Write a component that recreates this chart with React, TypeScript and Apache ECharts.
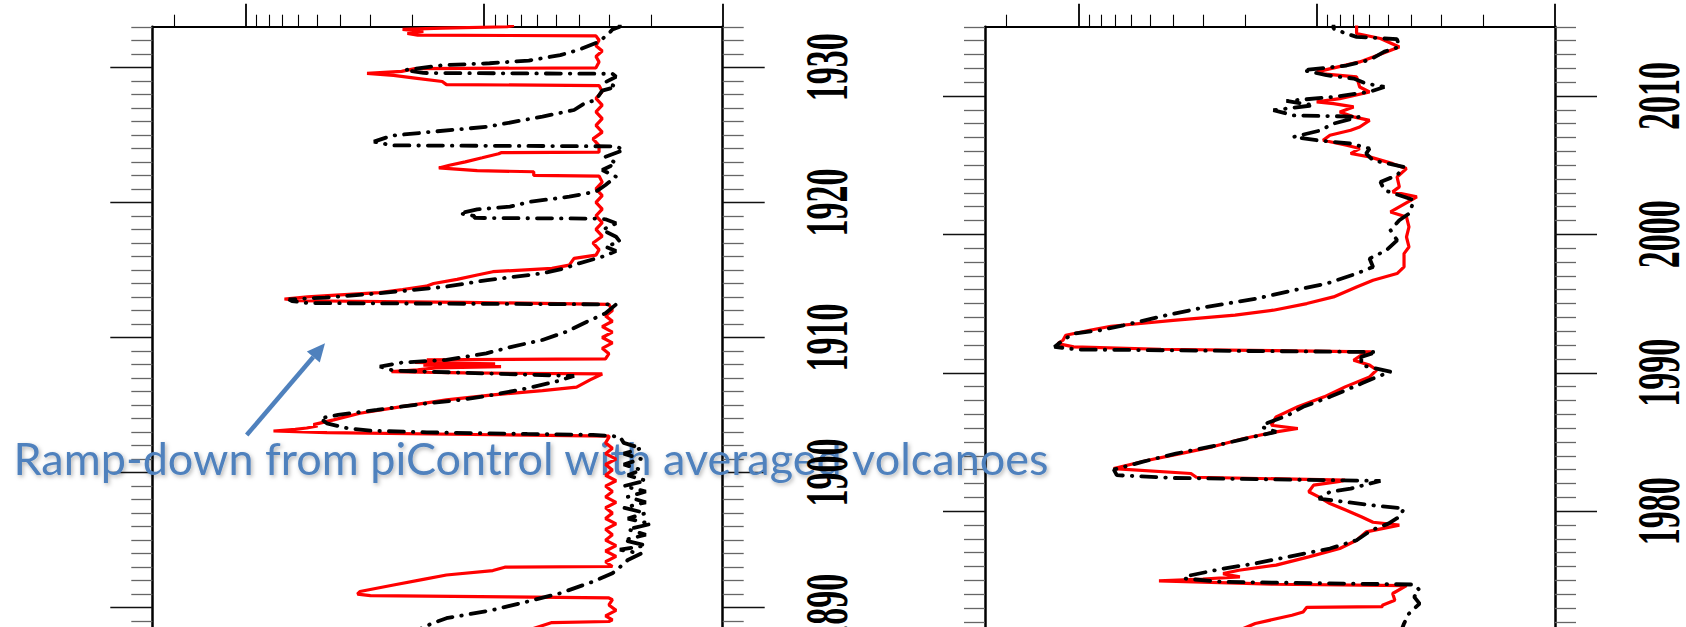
import React, { useEffect, useRef } from "react";
import * as echarts from "echarts";

// ---------- data: [year, aerosol optical depth] ----------
const leftRed: [number, number][] = [
  [1888.0, 0.0075], [1888.9, 0.0052], [1888.98, 0.003], [1889.1, 0.0029], [1889.4, 0.0031],
  [1889.8, 0.0028], [1890.2, 0.003], [1890.6, 0.0029], [1890.72, 0.003], [1890.8, 0.008],
  [1890.9, 0.03], [1891.0, 0.034], [1891.2, 0.0332], [1891.68, 0.024], [1892.1, 0.018],
  [1892.42, 0.0144], [1892.75, 0.0092], [1893.0, 0.0082], [1893.05, 0.0029],
  [1893.4, 0.0031], [1893.8, 0.0028], [1894.2, 0.0031], [1894.6, 0.0028], [1895.0, 0.0031],
  [1895.4, 0.0029], [1895.8, 0.0031], [1896.2, 0.0028], [1896.6, 0.0031], [1897.0, 0.0029],
  [1897.4, 0.0031], [1897.8, 0.0028], [1898.2, 0.0031], [1898.6, 0.0029], [1899.0, 0.0031],
  [1899.4, 0.0028], [1899.8, 0.0031], [1900.2, 0.0029], [1900.6, 0.0031], [1901.0, 0.0028],
  [1901.4, 0.0031], [1901.8, 0.0029], [1902.2, 0.0031], [1902.6, 0.003], [1902.7, 0.003],
  [1902.8, 0.0092], [1902.96, 0.0457], [1903.08, 0.0765], [1903.2, 0.062], [1903.3, 0.0555],
  [1903.45, 0.05], [1903.55, 0.052], [1903.9, 0.0428], [1904.39, 0.0332], [1904.88, 0.0222],
  [1905.38, 0.0144], [1905.75, 0.0092], [1906.07, 0.0057], [1906.32, 0.0041], [1906.86, 0.0036],
  [1907.3, 0.0032], [1907.38, 0.012], [1907.48, 0.0245], [1907.6, 0.019], [1907.75, 0.016],
  [1907.85, 0.0085], [1907.95, 0.018], [1908.05, 0.009], [1908.15, 0.0195], [1908.25, 0.017],
  [1908.34, 0.0174], [1908.42, 0.0031], [1908.8, 0.003], [1909.2, 0.0032], [1909.6, 0.0029],
  [1910.0, 0.0032], [1910.4, 0.0029], [1910.8, 0.0032], [1911.2, 0.0029], [1911.6, 0.0031],
  [1912.0, 0.0029], [1912.45, 0.003], [1912.6, 0.012], [1912.72, 0.06], [1912.85, 0.0688],
  [1913.0, 0.055], [1913.14, 0.0419], [1913.32, 0.0275], [1913.55, 0.022], [1913.8, 0.0175],
  [1914.0, 0.0163], [1914.3, 0.013], [1914.63, 0.0107], [1914.87, 0.0092], [1915.12, 0.0052],
  [1915.36, 0.0044], [1915.86, 0.0042], [1916.1, 0.0034], [1916.5, 0.0033], [1917.0, 0.0035],
  [1917.5, 0.0032], [1918.0, 0.0034], [1918.5, 0.0032], [1919.0, 0.0034], [1919.5, 0.0032],
  [1920.0, 0.0034], [1920.5, 0.0032], [1921.0, 0.0034], [1921.5, 0.0032], [1921.95, 0.0033],
  [1922.0, 0.0062], [1922.27, 0.0062], [1922.35, 0.0107], [1922.55, 0.0155], [1922.75, 0.014],
  [1923.0, 0.012], [1923.3, 0.0102], [1923.6, 0.0087], [1923.68, 0.0085], [1923.72, 0.0033],
  [1924.2, 0.0033], [1924.7, 0.0035], [1925.2, 0.0032], [1925.7, 0.0034], [1926.2, 0.0032],
  [1926.7, 0.0034], [1927.2, 0.0032], [1927.7, 0.0034], [1928.2, 0.0032], [1928.65, 0.0033],
  [1928.72, 0.0144], [1928.95, 0.015], [1929.2, 0.0195], [1929.4, 0.024], [1929.55, 0.031],
  [1929.7, 0.0222], [1929.9, 0.0195], [1929.96, 0.0034], [1930.4, 0.0033], [1930.8, 0.0034],
  [1931.2, 0.0032], [1931.6, 0.0034], [1932.0, 0.0033], [1932.33, 0.0034], [1932.38, 0.019],
  [1932.5, 0.021], [1932.65, 0.018], [1932.8, 0.022], [1932.9, 0.015], [1933.0, 0.008],
  [1933.1, 0.0075],
];

const leftBlack: [number, number][] = [
  [1888.0, 0.021], [1888.85, 0.0165], [1889.22, 0.0144], [1889.83, 0.0092], [1890.45, 0.0066],
  [1891.07, 0.0048], [1891.93, 0.0035], [1892.55, 0.0029], [1893.0, 0.0027], [1893.53, 0.0025],
  [1894.0, 0.0022], [1894.3, 0.0027], [1894.6, 0.0021], [1895.0, 0.0026], [1895.4, 0.0021],
  [1895.8, 0.0025], [1896.2, 0.002], [1896.6, 0.0025], [1897.0, 0.0021], [1897.4, 0.0026],
  [1897.8, 0.0021], [1898.2, 0.0025], [1898.6, 0.0021], [1899.0, 0.0026], [1899.4, 0.0021],
  [1899.8, 0.0025], [1900.2, 0.0022], [1900.6, 0.0026], [1901.0, 0.0022], [1901.4, 0.0026],
  [1901.8, 0.0022], [1902.2, 0.0026], [1902.66, 0.0027], [1902.79, 0.0035], [1902.86, 0.0066],
  [1902.98, 0.0174], [1903.1, 0.03], [1903.28, 0.0374], [1903.65, 0.0457], [1904.02, 0.0487],
  [1904.27, 0.041], [1904.64, 0.0282], [1905.13, 0.0174], [1905.38, 0.0126], [1905.75, 0.0092],
  [1906.24, 0.0066], [1906.74, 0.005], [1907.15, 0.0042], [1907.4, 0.0126], [1907.55, 0.024],
  [1907.85, 0.0274], [1908.14, 0.0222], [1908.34, 0.0144], [1908.83, 0.0098], [1909.33, 0.0076],
  [1909.82, 0.0057], [1910.44, 0.0045], [1911.18, 0.0037], [1911.79, 0.0031], [1912.45, 0.0028],
  [1912.55, 0.055], [1912.7, 0.064], [1912.82, 0.066], [1912.95, 0.0465], [1913.27, 0.0275],
  [1913.76, 0.0145], [1914.25, 0.0097], [1914.75, 0.0057], [1915.12, 0.0046], [1915.49, 0.004],
  [1915.98, 0.0032], [1916.4, 0.0028], [1916.72, 0.0031], [1917.1, 0.0027], [1917.46, 0.0028],
  [1917.96, 0.0032], [1918.45, 0.0028], [1918.75, 0.0031], [1918.8, 0.0034], [1918.85, 0.011],
  [1919.0, 0.011], [1919.19, 0.0127], [1919.48, 0.0107], [1919.68, 0.0078], [1920.05, 0.0064],
  [1920.42, 0.0044], [1920.8, 0.0034], [1921.29, 0.0031], [1921.9, 0.0028], [1922.4, 0.0032],
  [1922.89, 0.0028], [1923.38, 0.0031], [1923.88, 0.0026], [1924.15, 0.0028], [1924.22, 0.0244],
  [1924.5, 0.029], [1924.94, 0.0244], [1925.24, 0.0163], [1925.6, 0.0097], [1926.35, 0.0057],
  [1926.84, 0.0042], [1927.33, 0.0038], [1927.58, 0.0034], [1928.27, 0.0032], [1928.56, 0.0028],
  [1928.9, 0.0031], [1929.3, 0.0028], [1929.52, 0.0029], [1929.58, 0.018], [1929.8, 0.0215],
  [1930.15, 0.015], [1930.3, 0.0095], [1930.5, 0.0065], [1930.9, 0.0048], [1931.3, 0.004],
  [1931.9, 0.0033], [1932.5, 0.003], [1932.8, 0.0029], [1933.0, 0.0027], [1933.1, 0.0027],
];

const rightRed: [number, number][] = [
  [1971.0, 0.024], [1971.88, 0.0181], [1972.48, 0.0127], [1972.72, 0.0114], [1973.05, 0.011],
  [1973.1, 0.0053], [1973.2, 0.0053], [1973.57, 0.0047], [1974.05, 0.0048], [1974.62, 0.0042],
  [1974.72, 0.015], [1974.96, 0.0459], [1975.1, 0.03], [1975.25, 0.021], [1975.4, 0.0235],
  [1975.49, 0.0247], [1975.73, 0.0212], [1976.1, 0.0148], [1976.7, 0.0108], [1977.3, 0.008],
  [1977.9, 0.0068], [1978.5, 0.0062], [1978.99, 0.0045], [1979.2, 0.0058], [1979.6, 0.0065],
  [1980.1, 0.0076], [1980.55, 0.0088], [1981.03, 0.0098], [1981.4, 0.0108], [1981.88, 0.0103],
  [1982.15, 0.008], [1982.24, 0.0076], [1982.45, 0.032], [1982.72, 0.0337], [1983.08, 0.0711],
  [1983.68, 0.051], [1984.16, 0.0373], [1984.65, 0.0274], [1985.25, 0.0202], [1985.73, 0.0148],
  [1985.97, 0.012], [1986.21, 0.0155], [1986.81, 0.0148], [1987.54, 0.012], [1988.26, 0.0093],
  [1988.98, 0.0076], [1989.7, 0.006], [1990.2, 0.0056], [1990.55, 0.006], [1990.9, 0.007],
  [1991.27, 0.0065], [1991.51, 0.0059], [1991.6, 0.015], [1991.7, 0.045], [1991.87, 0.1046],
  [1992.11, 0.122], [1992.35, 0.116], [1992.71, 0.113], [1993.07, 0.0896], [1993.36, 0.073],
  [1993.79, 0.04], [1994.16, 0.022], [1994.52, 0.0152], [1995.0, 0.011], [1995.48, 0.0085],
  [1996.2, 0.0068], [1996.68, 0.0058], [1997.17, 0.0046], [1997.65, 0.0043], [1998.61, 0.0043],
  [1999.09, 0.0041], [1999.81, 0.0042], [2000.54, 0.0041], [2001.26, 0.0042], [2001.62, 0.0049],
  [2002.71, 0.0038], [2003.07, 0.0048], [2003.43, 0.0045], [2004.15, 0.0046], [2004.75, 0.0042],
  [2005.11, 0.0048], [2005.6, 0.006], [2005.84, 0.0072], [2006.2, 0.0066], [2006.44, 0.0075],
  [2006.8, 0.0094], [2007.16, 0.0088], [2007.52, 0.0072], [2007.76, 0.0066], [2008.24, 0.006],
  [2008.49, 0.007], [2008.85, 0.008], [2009.21, 0.007], [2009.45, 0.0085], [2009.57, 0.01],
  [2009.81, 0.008], [2010.29, 0.006], [2010.65, 0.0066], [2011.38, 0.0068], [2011.6, 0.0094],
  [2011.74, 0.01], [2012.46, 0.0066], [2012.82, 0.0058], [2013.54, 0.0045], [2014.15, 0.0054],
  [2014.51, 0.0068], [2014.94, 0.0068], [2015.1, 0.0068],
];

const rightBlack: [number, number][] = [
  [1971.0, 0.0045], [1971.88, 0.0043], [1972.6, 0.0041], [1973.32, 0.0037], [1973.81, 0.0039],
  [1974.29, 0.0037], [1974.7, 0.0039], [1974.89, 0.0247], [1975.13, 0.036], [1975.37, 0.0337],
  [1975.85, 0.0247], [1976.22, 0.0181], [1976.7, 0.0132], [1977.3, 0.0088], [1977.9, 0.0068],
  [1978.62, 0.0059], [1979.1, 0.005], [1979.59, 0.0045], [1980.19, 0.0043], [1980.43, 0.0059],
  [1980.91, 0.0098], [1981.39, 0.0088], [1981.63, 0.0072], [1982.19, 0.0054], [1982.4, 0.041],
  [1982.6, 0.069], [1983.0, 0.071], [1983.56, 0.054], [1984.16, 0.039], [1984.77, 0.026],
  [1985.37, 0.0185], [1985.73, 0.0148], [1986.09, 0.017], [1986.33, 0.0163], [1986.93, 0.0132],
  [1987.54, 0.0114], [1988.26, 0.0088], [1989.22, 0.0065], [1989.7, 0.0056], [1990.07, 0.0049],
  [1990.55, 0.0065], [1991.15, 0.0065], [1991.5, 0.0056], [1991.6, 0.03], [1991.68, 0.1],
  [1991.87, 0.126], [1992.35, 0.116], [1992.83, 0.105], [1993.07, 0.0811], [1993.43, 0.0647],
  [1994.16, 0.0427], [1994.76, 0.029], [1995.36, 0.0179], [1995.96, 0.0125], [1996.44, 0.0091],
  [1997.17, 0.0068], [1997.65, 0.0058], [1998.25, 0.006], [1998.85, 0.0051], [1999.57, 0.0046],
  [2000.3, 0.0049], [2001.02, 0.0045], [2001.5, 0.0041], [2002.47, 0.0039], [2003.19, 0.0052],
  [2003.79, 0.0054], [2004.27, 0.0046], [2004.87, 0.0043], [2005.35, 0.0058], [2005.84, 0.0062],
  [2006.2, 0.006], [2006.56, 0.0072], [2006.8, 0.01], [2007.04, 0.0125], [2007.5, 0.0097],
  [2008.0, 0.0085], [2008.5, 0.0066], [2008.6, 0.0125], [2008.97, 0.0152], [2009.33, 0.0103],
  [2009.64, 0.0134], [2009.93, 0.0085], [2010.3, 0.006], [2010.65, 0.0052], [2010.9, 0.0062],
  [2011.26, 0.007], [2011.5, 0.0091], [2011.86, 0.0114], [2012.2, 0.0075], [2012.6, 0.006],
  [2013.2, 0.0052], [2013.55, 0.0045], [2014.1, 0.0046], [2014.27, 0.0068], [2014.5, 0.0075],
  [2014.87, 0.0085], [2015.1, 0.0085],
];

const leftYearLabels = [1890, 1900, 1910, 1920, 1930];
const rightYearLabels = [1980, 1990, 2000, 2010];
const leftYearRange = [1884.648, 1933.005];
const rightYearRange = [1967.801, 2015.005];
const aodRange = [0.001, 0.2465];
const annotation = "Ramp-down from piControl with averaged volcanoes";

// ---------- layout ----------
const CHART_W = 1686;
const CHART_H = 680;
const GRIDS = [
  { left: 152.3, top: 26.7, width: 570.4, height: 653.3 },
  { left: 985, top: 26.7, width: 570, height: 653.3 },
];
const BLUE = "#4F81BD";
const SERIF = "Liberation Serif, Times New Roman, serif";

function logTicks() {
  const maxLog = Math.log10(aodRange[1]);
  const major: number[] = [];
  const minor: number[] = [];
  for (let n = -3; n <= -1; n++) {
    major.push(n);
    for (let k = 2; k <= 9; k++) {
      const v = Math.log10(k * Math.pow(10, n));
      if (v < maxLog) minor.push(v);
    }
  }
  return { major, minor, maxLog };
}

function buildOption() {
  const { major, minor, maxLog } = logTicks();
  const xAxis: any[] = [];
  const yAxis: any[] = [];
  const hidden = { show: false };
  GRIDS.forEach((_, gi) => {
    xAxis.push({
      type: "log", logBase: 10, gridIndex: gi, min: aodRange[0], max: aodRange[1],
      inverse: true, position: "top",
      axisLine: { show: true, lineStyle: { color: "#000", width: 2 } },
      axisTick: hidden, axisLabel: hidden, splitLine: hidden, minorTick: hidden,
    });
    xAxis.push({
      type: "value", gridIndex: gi, min: -3, max: maxLog, inverse: true, position: "top",
      axisLine: hidden,
      axisTick: { show: true, customValues: major, length: 23, lineStyle: { color: "#000", width: 1.8 } },
      axisLabel: hidden, splitLine: hidden,
    });
    xAxis.push({
      type: "value", gridIndex: gi, min: -3, max: maxLog, inverse: true, position: "top",
      axisLine: hidden,
      axisTick: { show: true, customValues: minor, length: 12, lineStyle: { color: "#000", width: 1.1 } },
      axisLabel: hidden, splitLine: hidden,
    });
    const range = gi === 0 ? leftYearRange : rightYearRange;
    const majors = gi === 0 ? leftYearLabels : rightYearLabels;
    ["left", "right"].forEach((pos) => {
      yAxis.push({
        type: "value", gridIndex: gi, min: range[0], max: range[1], position: pos,
        axisLine: { show: true, lineStyle: { color: "#000", width: 2.5 } },
        axisTick: { show: true, customValues: majors, length: 42, lineStyle: { color: "#111", width: 1.3 } },
        minorTick: { show: true, splitNumber: 10, length: 21, lineStyle: { color: "#666", width: 1.3 } },
        axisLabel: hidden, splitLine: hidden, minorSplitLine: hidden,
      });
    });
  });

  const mk = (data: [number, number][], xi: number, yi: number, black: boolean) => ({
    type: "line",
    xAxisIndex: xi,
    yAxisIndex: yi,
    data: data.map(([yr, v]) => [v, yr]),
    symbol: "none",
    showSymbol: false,
    silent: true,
    z: black ? 4 : 3,
    lineStyle: black
      ? { color: "#000", width: 3.8, type: [15, 9, 0.5, 9], cap: "round" }
      : { color: "#ff0000", width: 3.2 },
  });

  return {
    animation: false,
    backgroundColor: "#fff",
    grid: GRIDS.map((g) => ({ ...g, containLabel: false, show: false, outerBoundsMode: "none" })),
    xAxis,
    yAxis,
    series: [
      mk(leftRed, 0, 0, false),
      mk(leftBlack, 0, 0, true),
      mk(rightRed, 3, 2, false),
      mk(rightBlack, 3, 2, true),
    ],
  };
}

// year label: rotated to read bottom-to-top, stretched across its height
function yearText(text: string, x: number, y: number) {
  return {
    type: "text",
    x,
    y,
    rotation: Math.PI / 2,
    scaleX: 1,
    scaleY: 1.8,
    silent: true,
    z: 5,
    style: {
      text,
      fontFamily: SERIF,
      fontSize: 34,
      fontWeight: "bold",
      fill: "#000",
      align: "center",
      verticalAlign: "middle",
    },
  };
}

export default function App() {
  const ref = useRef<HTMLDivElement>(null);
  useEffect(() => {
    const el = ref.current;
    if (!el) return;
    const chart = echarts.init(el, null, { renderer: "svg" });
    chart.setOption(buildOption() as any);

    const elements: any[] = [];
    const lx = GRIDS[0].left + GRIDS[0].width + 104.3;
    const rx = GRIDS[1].left + GRIDS[1].width + 104;
    leftYearLabels.forEach((yr) => {
      const py = chart.convertToPixel({ yAxisIndex: 0 } as any, yr) as unknown as number;
      elements.push(yearText(String(yr), lx, py));
    });
    rightYearLabels.forEach((yr) => {
      const py = chart.convertToPixel({ yAxisIndex: 2 } as any, yr) as unknown as number;
      elements.push(yearText(String(yr), rx, py));
    });

    // annotation arrow
    const tail = [246.7, 435];
    const tip = [325, 343.3];
    const dx = tip[0] - tail[0];
    const dy = tip[1] - tail[1];
    const len = Math.hypot(dx, dy);
    const ux = dx / len, uy = dy / len;
    const headL = 18, headW = 8.5;
    const bx = tip[0] - ux * headL, by = tip[1] - uy * headL;
    elements.push({
      type: "line", silent: true, z: 1,
      shape: { x1: tail[0], y1: tail[1], x2: bx, y2: by },
      style: { stroke: BLUE, lineWidth: 4.5 },
    });
    elements.push({
      type: "polygon", silent: true, z: 1,
      shape: { points: [[tip[0], tip[1]], [bx - uy * headW, by + ux * headW], [bx + uy * headW, by - ux * headW]] },
      style: { fill: BLUE },
    });
    elements.push({
      type: "text", silent: true, z: 1,
      x: 13.5, y: 458,
      style: {
        text: annotation,
        fontFamily: "Lato",
        fontSize: 45,
        fill: BLUE,
        align: "left",
        verticalAlign: "middle",
        textShadowColor: "rgba(0,0,0,0.3)",
        textShadowBlur: 4,
        textShadowOffsetX: 1.5,
        textShadowOffsetY: 2,
      },
    });

    chart.setOption({ graphic: { elements } } as any);
    return () => chart.dispose();
  }, []);
  return (
    <div
      ref={ref}
      style={{ position: "fixed", left: 0, top: 0, width: CHART_W, height: CHART_H, background: "#fff" }}
    />
  );
}
